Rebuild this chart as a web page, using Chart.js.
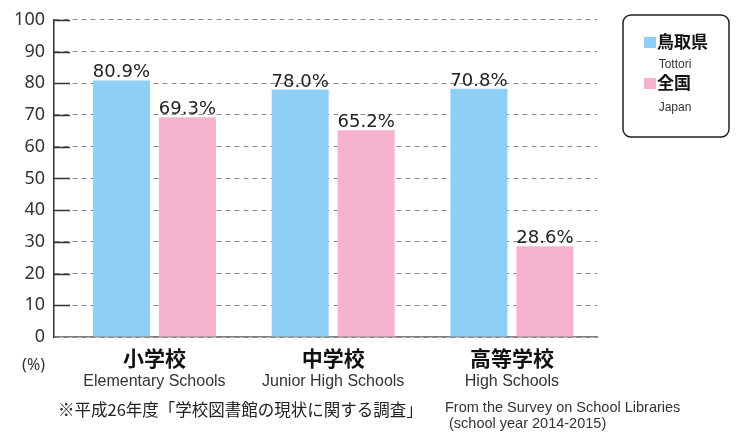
<!DOCTYPE html>
<html>
<head>
<meta charset="utf-8">
<script src="https://cdn.jsdelivr.net/npm/chart.js@4.4.1/dist/chart.umd.min.js"></script>
<style>
    html, body { margin: 0; padding: 0; background: #fff; }
    #wrap { width: 736px; height: 434px; position: relative; }
</style>
</head>
<body>
<div id="wrap"><canvas id="chart"></canvas></div>
<script>
// categories
const categoriesJa = ["小学校", "中学校", "高等学校"];
const categoriesEn = ["Elementary Schools", "Junior High Schools", "High Schools"];

// series (bar heights as drawn in the source; printed labels kept separately)
const seriesNamesJa = ["鳥取県", "全国"];
const seriesNamesEn = ["Tottori", "Japan"];
const tottoriValues = [80.9, 78.0, 78.3];
const tottoriLabels = ["80.9%", "78.0%", "70.8%"];
const japanValues = [69.3, 65.2, 28.6];
const japanLabels = ["69.3%", "65.2%", "28.6%"];

// y axis
const yTicks = [0, 10, 20, 30, 40, 50, 60, 70, 80, 90, 100];

const footnoteJa = "※平成26年度「学校図書館の現状に関する調査」";
const footnoteEn = ["From the Survey on School Libraries", " (school year 2014-2015)"];

const blue = "#8ecff6";
const pink = "#f5b3cd";

const extrasPlugin = {
    id: "extras",
    beforeDatasetsDraw(chart) {
        const ctx = chart.ctx;
        const y = chart.scales.y;
        const left = chart.chartArea.left;
        // short solid tick marks inside the axis
        ctx.save();
        ctx.strokeStyle = "#333";
        ctx.lineWidth = 1.5;
        yTicks.forEach((t) => {
            if (t === 0) return;
            const py = Math.round(y.getPixelForValue(t)) + 0.5;
            ctx.beginPath();
            ctx.moveTo(left, py);
            ctx.lineTo(left + 16, py);
            ctx.stroke();
        });
        ctx.restore();
    },
    afterDatasetsDraw(chart) {
        const ctx = chart.ctx;
        const labelSets = [tottoriLabels, japanLabels];
        ctx.save();
        ctx.font = "18px 'DejaVu Sans'";
        ctx.fillStyle = "#222";
        ctx.textAlign = "center";
        ctx.textBaseline = "alphabetic";
        labelSets.forEach((labels, di) => {
            const meta = chart.getDatasetMeta(di);
            meta.data.forEach((bar, i) => {
                ctx.fillText(labels[i], bar.x, bar.y - 3);
            });
        });
        ctx.restore();
    },
    afterDraw(chart) {
        const ctx = chart.ctx;
        const x = chart.scales.x;
        ctx.save();
        ctx.textAlign = "center";
        ctx.textBaseline = "middle";

        // (%)
        ctx.fillStyle = "#333";
        ctx.font = "16px 'Noto Sans'";
        ctx.textAlign = "right";
        ctx.fillText("(%)", 45, 365);

        // category labels
        ctx.textAlign = "center";
        categoriesJa.forEach((c, i) => {
            const px = x.getPixelForValue(i);
            ctx.fillStyle = "#111";
            ctx.font = "bold 21px 'Noto Sans CJK JP'";
            ctx.fillText(c, px, 358);
            ctx.fillStyle = "#333";
            ctx.font = "16px 'Liberation Sans'";
            ctx.fillText(categoriesEn[i], px, 382);
        });

        // footnotes
        ctx.textAlign = "left";
        ctx.fillStyle = "#222";
        ctx.font = "16.5px 'Noto Sans CJK JP'";
        ctx.fillText(footnoteJa, 58, 410);
        ctx.fillStyle = "#333";
        ctx.font = "14.5px 'Liberation Sans'";
        ctx.fillText(footnoteEn[0], 445, 408);
        ctx.fillText(footnoteEn[1], 445, 424);

        // legend box
        ctx.strokeStyle = "#222";
        ctx.lineWidth = 1.5;
        ctx.beginPath();
        ctx.roundRect(623, 15, 106, 122, 8);
        ctx.stroke();

        const colors = [blue, pink];
        const rowY = [42, 83];
        const subY = [65, 108];
        seriesNamesJa.forEach((name, i) => {
            ctx.fillStyle = colors[i];
            ctx.fillRect(644, rowY[i] - 5, 12, 11);
            ctx.fillStyle = "#111";
            ctx.font = "bold 17px 'Noto Sans CJK JP'";
            ctx.textAlign = "left";
            ctx.fillText(name, 657, rowY[i]);
            ctx.fillStyle = "#333";
            ctx.font = "12px 'Liberation Sans'";
            ctx.textAlign = "center";
            ctx.fillText(seriesNamesEn[i], 675, subY[i]);
        });
        ctx.restore();
    }
};

new Chart(document.getElementById("chart"), {
    type: "bar",
    data: {
        datasets: [
            {
                label: seriesNamesJa[0],
                data: tottoriValues.map((v, i) => ({ x: i, y: v })),
                backgroundColor: blue,
                borderWidth: 0,
            },
            {
                label: seriesNamesJa[1],
                data: japanValues.map((v, i) => ({ x: i, y: v })),
                backgroundColor: pink,
                borderWidth: 0,
            },
        ],
    },
    options: {
        responsive: true,
        maintainAspectRatio: false,
        animation: false,
        categoryPercentage: 0.7385,
        barPercentage: 0.8636,
        layout: { padding: { top: 15, right: 139, bottom: 0, left: 0 } },
        plugins: {
            legend: { display: false },
            tooltip: { enabled: false },
        },
        scales: {
            x: {
                type: "linear",
                offset: false,
                min: -0.562,
                max: 2.476,
                grid: { display: false },
                ticks: { display: false },
                border: { display: true, color: "#808080", width: 1.5 },
                afterBuildTicks: (scale) => {
                    scale.ticks = categoriesJa.map((c, i) => ({ value: i }));
                },
                afterFit: (scale) => {
                    scale.height = 97;
                },
            },
            y: {
                min: 0,
                max: 100,
                afterBuildTicks: (scale) => {
                    scale.ticks = yTicks.map((v) => ({ value: v }));
                },
                ticks: {
                    color: "#333",
                    font: { family: "Noto Sans", size: 18 },
                    padding: 9,
                },
                grid: { color: "#8a8a8a", lineWidth: 1, drawTicks: false },
                border: { display: true, color: "#333", width: 1.5, dash: [5, 4] },
                afterFit: (scale) => {
                    scale.width = 54;
                },
            },
        },
    },
    plugins: [extrasPlugin],
});
</script>
</body>
</html>
